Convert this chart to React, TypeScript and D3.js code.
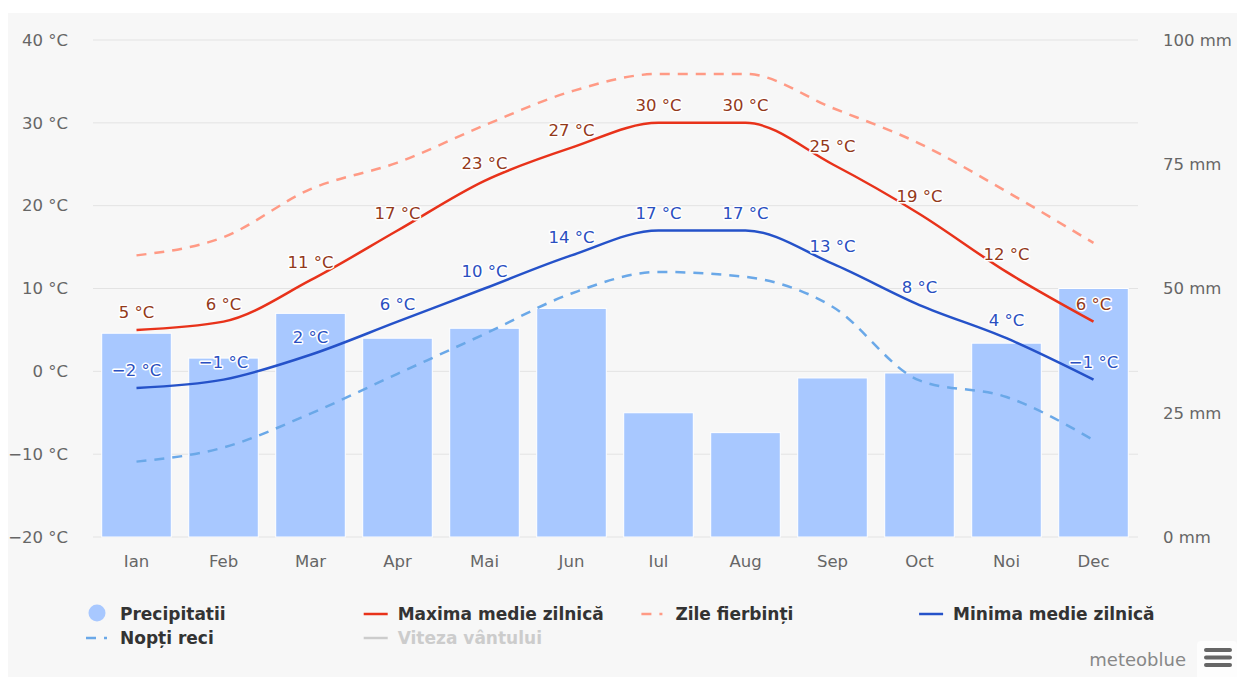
import React from 'react';
import * as d3 from 'd3';

const months = ['Ian', 'Feb', 'Mar', 'Apr', 'Mai', 'Jun', 'Iul', 'Aug', 'Sep', 'Oct', 'Noi', 'Dec'];
const precipitation = [41, 36, 45, 40, 42, 46, 25, 21, 32, 33, 39, 50];
const maxTemp = [5, 6, 11, 17, 23, 27, 30, 30, 25, 19, 12, 6];
const minTemp = [-2, -1, 2, 6, 10, 14, 17, 17, 13, 8, 4, -1];
const hotDays = [14, 16.2, 22, 25.2, 29.7, 33.8, 35.9, 35.9, 31.8, 27.5, 21.7, 15.5];
const coldNights = [-10.9, -9.2, -5.1, -0.3, 4.5, 9.4, 12, 11.4, 7.8, -1.1, -3.1, -8.3];
const tempTicks = [-20, -10, 0, 10, 20, 30, 40];
const precipTicks = [0, 25, 50, 75, 100];

const legendRow1 = [
  { name: 'Precipitatii', kind: 'circle', color: '#a8c8ff' },
  { name: 'Maxima medie zilnică', kind: 'line', color: '#e8321a' },
  { name: 'Zile fierbinți', kind: 'dash', color: '#ff9a85' },
  { name: 'Minima medie zilnică', kind: 'line', color: '#2552c9' },
];
const legendRow2 = [
  { name: 'Nopți reci', kind: 'dash', color: '#6aa8e8' },
  { name: 'Viteza vântului', kind: 'line', color: '#cccccc', hidden: true },
];

const FONT = '"DejaVu Sans", sans-serif';
const fmt = (v: number) => `${v < 0 ? '−' : ''}${Math.abs(v)} °C`;

export default function App() {
  const W = 1245, H = 677;
  const left = 93, right = 1137, top = 40, bottom = 537;

  const x = d3.scaleBand<string>().domain(months).range([left, right]).paddingInner(0.2).paddingOuter(0.1);
  const cx = (m: string) => (x(m) as number) + x.bandwidth() / 2;
  const yT = d3.scaleLinear().domain([-20, 40]).range([bottom, top]);
  const yP = d3.scaleLinear().domain([0, 100]).range([bottom, top]);

  const line = (vals: number[]) =>
    d3.line<number>().x((_, i) => cx(months[i])).y(v => yT(v)).curve(d3.curveMonotoneX)(vals) || '';

  const labelStyle = { fontFamily: FONT, fontSize: 16.5 } as const;

  const textX = (i: number) => 120 + 277.7 * i;

  const renderLegendItem = (it: any, i: number, y: number) => {
    const tx = textX(i);
    const x0 = tx - 34;
    return (
      <g key={it.name}>
        {it.kind === 'circle' && <circle cx={tx - 23} cy={y - 1} r={8.5} fill={it.color} />}
        {it.kind === 'line' && <line x1={x0} x2={x0 + 24} y1={y} y2={y} stroke={it.color} strokeWidth={2.5} />}
        {it.kind === 'dash' && (
          <line x1={x0} x2={x0 + 24} y1={y} y2={y} stroke={it.color} strokeWidth={2.5} strokeDasharray="10,8,3,20" />
        )}
        <text x={tx} y={y} dy="0.35em" fontFamily={FONT} fontSize={17} fontWeight="bold"
          fill={it.hidden ? '#cccccc' : '#333333'}>{it.name}</text>
      </g>
    );
  };

  return (
    <svg width={W} height={H} style={{ position: 'absolute', left: 0, top: 0 }}>
      <rect x={8} y={13} width={1229} height={H - 13} fill="#f7f7f7" />

      {tempTicks.map(t => (
        <line key={t} x1={left} x2={right + 1} y1={yT(t)} y2={yT(t)} stroke="#e3e3e3" strokeWidth={1} />
      ))}

      {tempTicks.map(t => (
        <text key={'l' + t} x={68} y={yT(t)} dy="0.35em" textAnchor="end" fontFamily={FONT} fontSize={16.5} fill="#666">
          {fmt(t)}
        </text>
      ))}
      {precipTicks.map(t => (
        <text key={'r' + t} x={1163} y={yP(t)} dy="0.35em" textAnchor="start" fontFamily={FONT} fontSize={16.5} fill="#666">
          {`${t} mm`}
        </text>
      ))}
      {months.map(m => (
        <text key={'x' + m} x={cx(m)} y={561} dy="0.35em" textAnchor="middle" fontFamily={FONT} fontSize={16.5} fill="#666">
          {m}
        </text>
      ))}

      {months.map((m, i) => (
        <rect key={'b' + m} x={x(m)} y={yP(precipitation[i])} width={x.bandwidth()}
          height={yP(0) - yP(precipitation[i])} fill="#a8c8ff" stroke="#ffffff" strokeWidth={1} />
      ))}

      <path d={line(coldNights)} fill="none" stroke="#6aa8e8" strokeWidth={2.5} strokeDasharray="10,8" />
      <path d={line(hotDays)} fill="none" stroke="#ff9a85" strokeWidth={2.5} strokeDasharray="10,8" />
      <path d={line(maxTemp)} fill="none" stroke="#e8321a" strokeWidth={2.5} />
      <path d={line(minTemp)} fill="none" stroke="#2552c9" strokeWidth={2.5} />

      {maxTemp.map((v, i) => (
        <text key={'mx' + i} x={cx(months[i])} y={yT(v) - 12} textAnchor="middle" {...labelStyle}
          fill="#93391a" stroke="#ffffff" strokeWidth={3} strokeLinejoin="round" paintOrder="stroke">
          {fmt(v)}
        </text>
      ))}
      {minTemp.map((v, i) => (
        <text key={'mn' + i} x={cx(months[i])} y={yT(v) - 12} textAnchor="middle" {...labelStyle}
          fill="#2a4fc0" stroke="#ffffff" strokeWidth={3} strokeLinejoin="round" paintOrder="stroke">
          {fmt(v)}
        </text>
      ))}

      {legendRow1.map((it, i) => renderLegendItem(it, i, 614))}
      {legendRow2.map((it, i) => renderLegendItem(it, i, 638))}

      <text x={1186} y={660} dy="0.35em" textAnchor="end" fontFamily={FONT} fontSize={18} fill="#888">meteoblue</text>
      <rect x={1197} y={641} width={40} height={40} rx={4} fill="#fdfdfd" />
      {[650, 657.5, 665].map(yy => (
        <rect key={yy} x={1204} y={yy - 2} width={28} height={4} rx={2} fill="#666" />
      ))}
    </svg>
  );
}
